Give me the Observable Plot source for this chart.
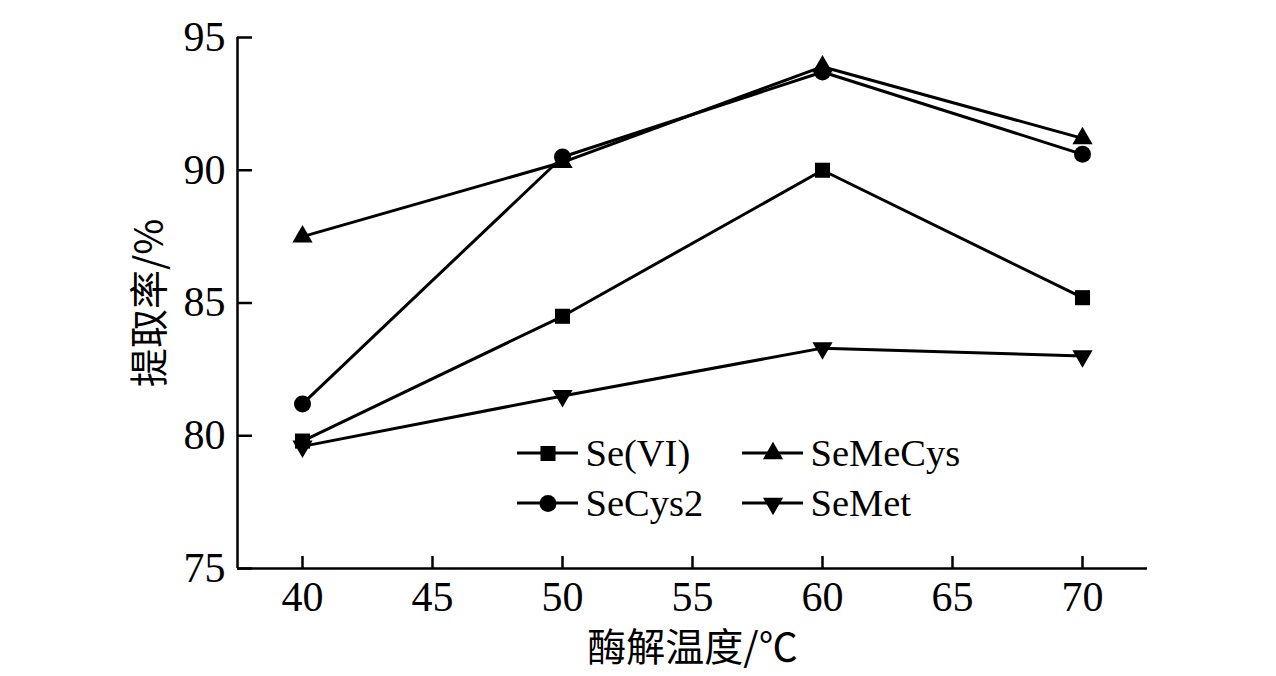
<!DOCTYPE html>
<html>
<head>
<meta charset="utf-8">
<script src="https://cdn.jsdelivr.net/npm/d3@7"></script>
<script src="https://cdn.jsdelivr.net/npm/@observablehq/plot@0.6"></script>
<style>
  html, body { margin: 0; padding: 0; background: #fff; }
</style>
</head>
<body>
<div id="chart"></div>
<script>
const temps = [40, 50, 60, 70];
const seVI = [79.8, 84.5, 90.0, 85.2];
const seMeCys = [87.5, 90.3, 93.9, 91.2];
const seCys2 = [81.2, 90.5, 93.7, 90.6];
const seMet = [79.6, 81.5, 83.3, 83.0];
const seriesNames = ["Se(VI)", "SeMeCys", "SeCys2", "SeMet"];
const seriesValues = [seVI, seMeCys, seCys2, seMet];
const seriesSymbols = ["square", "triangle", "circle", "triangle"];
const xTicks = [40, 45, 50, 55, 60, 65, 70];
const yTicks = [75, 80, 85, 90, 95];
const xDomain = [37.5, 72.5];
const yDomain = [75, 95];
const xLabel = "酶解温度/℃";
const yLabel = "提取率/%";

const rows = seriesNames.flatMap((name, s) =>
  temps.map((t, i) => ({series: name, x: t, y: seriesValues[s][i]}))
);
const nameOf = d => (typeof d === "string" ? d : d.series);
const rot = d => nameOf(d) === "SeMet" ? 180 : 0;
const rad = d => (nameOf(d) === "SeMeCys" || nameOf(d) === "SeMet") ? 7.5 : 8.5;

const W = 1276, H = 676;
const mL = 237, mR = 129, mT = 37, mB = 108;

// legend layout (relative to frame's top-left)
const legX0 = 280, legY0 = 416, legCol = 225, legRow = 50, legLine = 61;

const legendLines = (index, scales, values, dims) => {
  const g = d3.create("svg:g");
  seriesNames.forEach((name, i) => {
    const col = i % 2, row = Math.floor(i / 2);
    const x0 = dims.marginLeft + legX0 + col * legCol;
    const y0 = dims.marginTop + legY0 + row * legRow;
    g.append("line").attr("x1", x0).attr("x2", x0 + legLine)
      .attr("y1", y0).attr("y2", y0)
      .attr("stroke", "black").attr("stroke-width", 3);
  });
  return g.node();
};

const legendMarks = seriesNames.map((name, i) => {
  const col = i % 2, row = Math.floor(i / 2);
  const dx = legX0 + col * legCol, dy = legY0 + row * legRow;
  return [
    Plot.dot([name], {frameAnchor: "top-left", dx: dx + legLine / 2, dy, symbol: d => d, rotate: rot, r: rad, fill: "black", stroke: "none"}),
    Plot.text([name], {frameAnchor: "top-left", dx: dx + legLine + 7, dy, text: d => d, textAnchor: "start", lineAnchor: "middle", fontSize: 38.5, fill: "black"})
  ];
});

const chart = Plot.plot({
  width: W,
  height: H,
  marginLeft: mL,
  marginRight: mR,
  marginTop: mT,
  marginBottom: mB,
  style: {fontFamily: "'Liberation Serif', 'Times New Roman', 'Noto Sans CJK SC', serif", background: "#fff", color: "black"},
  x: {domain: xDomain},
  y: {domain: yDomain},
  r: {type: "identity"},
  symbol: {domain: seriesNames, range: seriesSymbols},
  marks: [
    Plot.ruleX([xDomain[0]], {stroke: "black", strokeWidth: 2.5}),
    Plot.ruleY([yDomain[0]], {stroke: "black", strokeWidth: 2.5}),
    Plot.axisX(xTicks, {tickSize: -12, tickPadding: 25, fontSize: 42, label: null, strokeWidth: 2.5, stroke: "black", fill: "black"}),
    Plot.axisY(yTicks, {tickSize: -15, tickPadding: 27, fontSize: 42, label: null, strokeWidth: 2.5, stroke: "black", fill: "black"}),
    Plot.line(rows, {x: "x", y: "y", z: "series", stroke: "black", strokeWidth: 3}),
    Plot.dot(rows, {x: "x", y: "y", symbol: "series", rotate: rot, r: rad, fill: "black", stroke: "none"}),
    legendLines,
    legendMarks,
    Plot.text([xLabel], {frameAnchor: "bottom", dy: 80, text: d => d, fontSize: 39, textAnchor: "middle", lineAnchor: "middle", fontFamily: "'Noto Sans CJK SC', 'Liberation Serif', sans-serif", fill: "black"}),
    Plot.text([yLabel], {frameAnchor: "left", dx: -87, text: d => d, fontSize: 39, rotate: -90, textAnchor: "middle", lineAnchor: "middle", fontFamily: "'Noto Sans CJK SC', 'Liberation Serif', sans-serif", fill: "black"})
  ]
});
document.getElementById("chart").appendChild(chart);
</script>
</body>
</html>
